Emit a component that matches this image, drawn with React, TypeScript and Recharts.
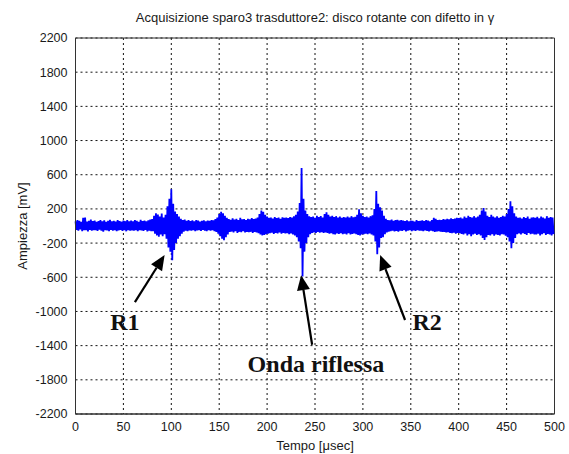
import React from 'react'
import { CartesianGrid, Line, LineChart, ReferenceArea, ReferenceDot, ReferenceLine, XAxis, YAxis } from 'recharts'

// signal envelope, one pair per 2 usec (upper peak, lower trough) in mV
const sampleStep = 2

const peaks = [
  55, 70, 60, 48, 95, 100, 52, 60, 75, 58,
  62, 50, 58, 70, 55, 66, 48, 60, 72, 55,
  60, 52, 68, 58, 50, 64, 56, 70, 54, 62,
  55, 68, 60, 50, 72, 58, 62, 54, 66, 75,
  80, 120, 150, 135, 110, 145, 100, 130, 230, 320,
  430, 260, 170, 140, 110, 85, 70, 75, 60, 68,
  58, 65, 55, 70, 62, 52, 60, 66, 55, 62,
  60, 70, 65, 80, 100, 140, 167, 150, 120, 95,
  80, 72, 90, 75, 85, 70, 95, 78, 82, 70,
  85, 78, 92, 80, 88, 100, 140, 180, 165, 130,
  110, 95, 100, 88, 105, 92, 98, 85, 102, 95,
  100, 92, 105, 98, 115, 130, 170, 270, 680, 320,
  180, 140, 115, 105, 110, 95, 120, 105, 115, 100,
  140, 160, 130, 110, 120, 105, 115, 100, 110, 95,
  105, 98, 110, 100, 115, 102, 108, 130, 195, 150,
  120, 105, 110, 100, 115, 125, 200, 410, 260, 220,
  180, 120, 85, 70, 65, 75, 60, 68, 72, 62,
  70, 62, 58, 66, 55, 64, 60, 52, 68, 58,
  60, 66, 58, 70, 62, 55, 68, 95, 85, 70,
  72, 68, 80, 75, 85, 78, 90, 82, 88, 95,
  92, 100, 88, 110, 95, 120, 105, 98, 115, 100,
  110, 130, 180, 210, 170, 120, 105, 130, 110, 100,
  115, 95, 105, 120, 110, 140, 200, 290, 230, 150,
  110, 95, 100, 88, 105, 92, 110, 85, 98, 102,
  95, 108, 90, 110, 100, 88, 115, 95, 105, 100,
]

const troughs = [
  -45, -55, -40, -60, -50, -48, -62, -45, -55, -50,
  -50, -58, -42, -55, -65, -48, -52, -60, -45, -55,
  -48, -60, -52, -45, -58, -50, -62, -48, -55, -52,
  -55, -50, -60, -48, -52, -58, -45, -62, -55, -60,
  -60, -90, -110, -125, -100, -120, -95, -150, -250, -300,
  -400, -280, -200, -150, -120, -90, -65, -55, -60, -52,
  -55, -48, -60, -52, -50, -58, -45, -55, -60, -50,
  -55, -50, -60, -70, -90, -120, -150, -165, -130, -100,
  -70, -65, -75, -60, -80, -68, -72, -62, -75, -70,
  -72, -68, -80, -70, -75, -85, -100, -110, -105, -95,
  -90, -85, -78, -92, -80, -88, -75, -90, -82, -86,
  -85, -95, -88, -100, -110, -130, -180, -260, -590, -300,
  -200, -130, -95, -80, -75, -80, -70, -78, -72, -80,
  -75, -80, -90, -85, -95, -100, -88, -92, -85, -95,
  -90, -98, -85, -100, -92, -88, -95, -105, -110, -100,
  -95, -90, -95, -88, -100, -110, -180, -330, -250, -140,
  -130, -95, -75, -65, -60, -55, -62, -58, -65, -55,
  -58, -50, -62, -55, -48, -60, -52, -58, -50, -56,
  -55, -60, -52, -58, -62, -55, -60, -70, -65, -62,
  -65, -70, -68, -75, -72, -80, -85, -78, -90, -82,
  -85, -92, -100, -88, -110, -95, -120, -100, -90, -105,
  -95, -110, -140, -164, -130, -105, -110, -95, -115, -100,
  -105, -110, -95, -100, -115, -130, -180, -260, -200, -140,
  -95, -88, -100, -85, -92, -105, -80, -95, -90, -98,
  -100, -90, -110, -95, -85, -105, -92, -100, -110, -95,
]

const timeTicks = [0, 50, 100, 150, 200, 250, 300, 350, 400, 450, 500]
const ampTicks = [-2200, -1800, -1400, -1000, -600, -200, 200, 600, 1000, 1400, 1800, 2200]

// annotations in data units: arrow tail -> arrow tip, and label centre
const arrows = [
  { from: { x: 62, y: -890 }, to: { x: 93, y: -340 } },
  { from: { x: 247, y: -1390 }, to: { x: 235.5, y: -575 } },
  { from: { x: 344, y: -1100 }, to: { x: 318, y: -340 } },
]
const labels = [
  { x: 51.5, y: -1125, text: 'R1' },
  { x: 251, y: -1615, text: 'Onda riflessa' },
  { x: 367, y: -1125, text: 'R2' },
]

const signal: { t: number; v: number }[] = []
peaks.forEach((p, i) => {
  signal.push({ t: i * sampleStep, v: p })
  signal.push({ t: i * sampleStep + 1, v: troughs[i] })
})

const font = '"Liberation Sans", Arial, sans-serif'
const tickStyle = { fontSize: 12.5, fill: '#1a1a1a', fontFamily: font }

const Arrow = (p: any) => {
  const { x1, y1, x2, y2 } = p
  const dx = x2 - x1
  const dy = y2 - y1
  const len = Math.hypot(dx, dy)
  const ux = dx / len
  const uy = dy / len
  const hl = 15
  const hw = 6.5
  const bx = x2 - ux * hl
  const by = y2 - uy * hl
  const pts = `${x2},${y2} ${bx - uy * hw},${by + ux * hw} ${bx + uy * hw},${by - ux * hw}`
  return (
    <g>
      <line x1={x1} y1={y1} x2={bx} y2={by} stroke="#000" strokeWidth={2.2} />
      <polygon points={pts} fill="#000" />
    </g>
  )
}

const AnnotationText = (text: string) => (p: any) => (
  <text
    x={p.cx}
    y={p.cy}
    textAnchor="middle"
    dominantBaseline="central"
    style={{ fontFamily: '"Liberation Serif", "Times New Roman", serif', fontWeight: 'bold', fontSize: 24, fill: '#111' }}
  >
    {text}
  </text>
)

const App = () => {
  return (
    <div style={{ position: 'absolute', left: 0, top: 0, width: 569, height: 454, background: '#fff' }}>
      <div
        style={{
          position: 'absolute',
          left: 75.5,
          top: 11,
          width: 479,
          textAlign: 'center',
          fontFamily: font,
          fontSize: 13,
          lineHeight: '14px',
          color: '#1a1a1a',
        }}
      >
        Acquisizione sparo3 trasduttore2: disco rotante con difetto in γ
      </div>
      <LineChart width={569} height={454} data={signal} margin={{ top: 38, right: 14.5, bottom: 0, left: 0 }}>
        <CartesianGrid stroke="#111" strokeDasharray="2 3" />
        <XAxis
          dataKey="t"
          type="number"
          domain={[0, 500]}
          ticks={timeTicks}
          height={40}
          tickLine={false}
          axisLine={{ stroke: '#333' }}
          tick={tickStyle}
          label={{ value: 'Tempo [μsec]', position: 'insideBottom', offset: 4, style: { ...tickStyle, fontSize: 13 } }}
        />
        <YAxis
          type="number"
          domain={[-2200, 2200]}
          ticks={ampTicks}
          width={75.5}
          tickLine={false}
          axisLine={{ stroke: '#333' }}
          tick={tickStyle}
          label={{
            value: 'Ampiezza [mV]',
            angle: -90,
            position: 'insideLeft',
            offset: 22,
            style: { ...tickStyle, fontSize: 13, textAnchor: 'middle' },
          }}
        />
        <ReferenceArea x1={0} x2={500} y1={-2200} y2={2200} fill="none" stroke="#333" strokeWidth={1} />
        <Line
          dataKey="v"
          type="linear"
          stroke="#0000ff"
          strokeWidth={1.8}
          dot={false}
          isAnimationActive={false}
        />
        {arrows.map((a, i) => (
          <ReferenceLine key={'a' + i} segment={[a.from, a.to]} shape={Arrow} />
        ))}
        {labels.map((l, i) => (
          <ReferenceDot key={'l' + i} x={l.x} y={l.y} r={1} shape={AnnotationText(l.text)} />
        ))}
      </LineChart>
    </div>
  )
}

export default App
